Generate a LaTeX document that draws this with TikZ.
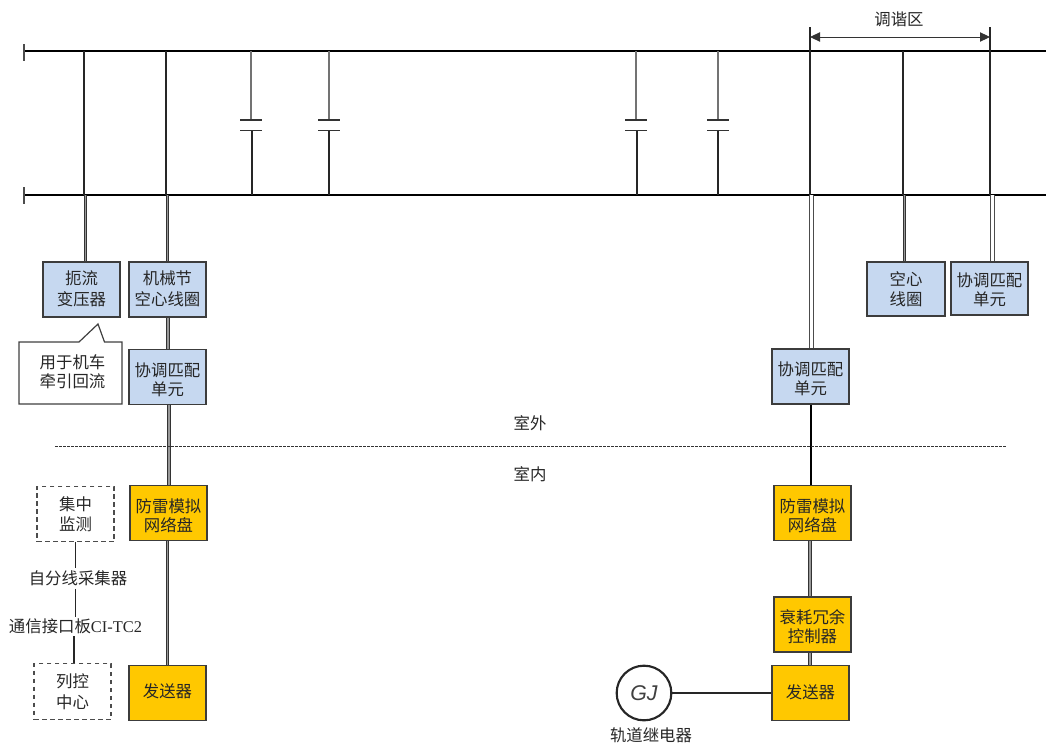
\documentclass[tikz,border=0pt]{standalone}
\usepackage{fontspec}
\setmainfont{Noto Sans CJK SC}
\newfontfamily\latserif{Liberation Serif}
\newfontfamily\latsans{Liberation Sans}
\usetikzlibrary{arrows.meta}
\newcommand\nudgetext[2]{\raisebox{#1}[\height][\depth]{\shortstack{#2}}}
\definecolor{boxblue}{HTML}{C6D8F0}
\definecolor{boxyellow}{HTML}{FFC800}
\definecolor{edgegray}{HTML}{3C3C3C}
\tikzset{
  base/.style={align=center,inner sep=0pt,font=\fontsize{12.3}{14.6}\selectfont,text=black!85},
  cell/.style={base,draw=edgegray,line width=1.1pt,minimum width=57.75pt,minimum height=41.5pt},
  bluebox/.style={cell,fill=boxblue},
  yellowbox/.style={cell,fill=boxyellow},
  dashbox/.style={base,draw=black!70,line width=0.8pt,dash pattern=on 3.5pt off 2.5pt,minimum width=57.75pt,minimum height=41.5pt},
  rail/.style={line width=2.1pt,black},
  thin wire/.style={line width=0.8pt,black!85},
  gray wire/.style={line width=0.9pt,black!55},
  plate/.style={line width=0.8pt,black!80},
  dblgray/.style={line width=0.7pt,draw=black!80,double=black!40,double distance=1.2pt},
  dblwhite/.style={line width=0.7pt,draw=black!70,double=white,double distance=2.3pt},
  heavy/.style={line width=1.5pt,black},
  sep/.style={line width=0.6pt,black!80,dash pattern=on 2pt off 1pt},
  lab/.style={base},
}
\begin{document}
\begin{tikzpicture}[x=0.75pt,y=-0.75pt]
\useasboundingbox (0,0) rectangle (1046,747);
% rail coordinates
\coordinate (tl) at (24,51); \coordinate (tr) at (1046,51);
\coordinate (bl) at (24,195); \coordinate (br) at (1046,195);
% boxes
\node[bluebox] (choke) at (81.5,289.5) {\nudgetext{0.7pt}{扼流\\[1pt]变压器}};
\node[bluebox] (coil) at (167.5,289.5) {\nudgetext{0.7pt}{机械节\\[1pt]空心线圈}};
\node[bluebox] (matchL) at (167.5,377) {\nudgetext{-2pt}{协调匹配\\单元}};
\node[yellowbox] (lightL) at (168.5,513) {\nudgetext{-2.2pt}{防雷模拟\\网络盘}};
\node[yellowbox] (txL) at (167.5,693) {\nudgetext{1.1pt}{发送器}};
\node[dashbox] (monitor) at (75.5,514) {\shortstack{集中\\[1pt]监测}};
\node[dashbox] (control) at (72.5,691.5) {\shortstack{列控\\[1pt]中心}};
\node[bluebox] (matchM) at (810.5,376.5) {\nudgetext{-2pt}{协调匹配\\单元}};
\node[yellowbox] (lightR) at (812.5,513) {\nudgetext{-2.2pt}{防雷模拟\\网络盘}};
\node[yellowbox] (atten) at (812.5,624.5) {\nudgetext{-1.5pt}{衰耗冗余\\控制器}};
\node[yellowbox] (txR) at (810.5,693) {\nudgetext{0.7pt}{发送器}};
\node[bluebox,minimum width=58.5pt,minimum height=40.5pt] (aircoil) at (906,289) {\shortstack{空心\\[1pt]线圈}};
\node[bluebox,minimum height=40pt] (matchR) at (989.5,288.5) {\nudgetext{-1.2pt}{协调匹配\\单元}};
\node[draw=black!85,line width=1.6pt,circle,minimum size=41pt,inner sep=0pt,font=\latsans\itshape\fontsize{16}{16}\selectfont,text=black!75] (relay) at (644,693) {GJ};
% rails
\draw[rail] (tl) -- (tr);
\draw[rail] (bl) -- (br);
\draw[line width=0.9pt,black!70] (24,44) -- (24,61);
\draw[line width=0.9pt,black!70] (24,187) -- (24,204);
% shunts between the rails
\foreach \x in {84,166,903}{
  \coordinate (a\x) at (\x,51); \coordinate (b\x) at (\x,195);
  \draw[thin wire] (a\x) -- (b\x);
}
\draw[thin wire] (810,27) -- (810,195);
\draw[thin wire] (990,27) -- (990,195);
% capacitors
\foreach \xa/\xb in {251/252,329/329,636/637,718/718}{
  \coordinate (ca\xa) at (\xa,120); \coordinate (cb\xa) at (\xb,130.5);
  \draw[gray wire] (\xa,51) -- (ca\xa);
  \draw[thin wire] (cb\xa) -- (\xb,195);
  \draw[plate] ([xshift=-8.25pt]ca\xa) -- ([xshift=8.25pt]ca\xa);
  \draw[plate] ([xshift=-8.25pt]ca\xa |- cb\xa) -- ([xshift=8.25pt]ca\xa |- cb\xa);
}
% tuning zone
\coordinate (zl) at (810,37); \coordinate (zr) at (990,37);
\draw[line width=0.7pt,black!80,{Triangle[length=7.5pt,width=7pt]}-{Triangle[length=7.5pt,width=7pt]}] (zl) -- (zr);
\node[lab] (zone) at (899,19) {调谐区};
% connectors below the rail
\coordinate (k85) at (85.5,195); \draw[dblgray] (k85) -- (k85 |- choke.north);
\coordinate (k167) at (167.5,195); \draw[dblgray] (k167) -- (k167 |- coil.north);
\coordinate (k168) at (168,340); \draw[dblgray] (k168 |- coil.south) -- (k168 |- matchL.north);
\coordinate (k169) at (169,440); \draw[dblgray] (k169 |- matchL.south) -- (k169 |- lightL.north);
\draw[dblgray] (k167 |- lightL.south) -- (k167 |- txL.north);
\coordinate (k812) at (811.7,195); \draw[dblwhite] (k812) -- (k812 |- matchM.north);
\coordinate (k904) at (904.5,195); \draw[dblgray] (k904) -- (k904 |- aircoil.north);
\coordinate (k992) at (992.7,195); \draw[dblwhite] (k992) -- (k992 |- matchR.north);
\coordinate (k811) at (810.5,440); \draw[heavy] (k811 |- matchM.south) -- (k811 |- lightR.north);
\coordinate (k810) at (810,560); \draw[dblgray] (k810 |- lightR.south) -- (k810 |- atten.north);
\draw[dblgray] (k810 |- atten.south) -- (k810 |- txR.north);
\draw[thin wire] (relay) -- (txR.west |- relay);
% indoor / outdoor
\coordinate (sl) at (55,446); \coordinate (sr) at (1006,446);
\draw[sep] (sl) -- (sr);
\node[lab] (out) at (530,423) {室外};
\node[lab] (in) at (530,474) {室内};
% callout
\draw[draw=black!75,line width=0.9pt,fill=white] (19,342) -- (79,342) -- (98,324) -- (104.5,342) -- (122,342) -- (122,404) -- (19,404) -- cycle;
\node[lab] (note) at (72.5,372) {\shortstack{用于机车\\牵引回流}};
% monitoring chain
\node[lab,minimum height=15pt] (collector) at (78,578.5) {自分线采集器};
\node[lab,minimum height=14pt] (board) at (75.5,626.5) {通信接口板{\latserif CI-TC2}};
\coordinate (m75) at (75.5,560); \coordinate (m74) at (74,650);
\draw[line width=0.8pt,black!85] (m75 |- monitor.south) -- (m75 |- collector.north);
\draw[line width=0.8pt,black!85] (m75 |- collector.south) -- (m75 |- board.north);
\draw[line width=0.8pt,black!85] (m74 |- board.south) -- (m74 |- control.north);
\node[lab] (relaylabel) at (651,735) {轨道继电器};
\end{tikzpicture}
\end{document}
